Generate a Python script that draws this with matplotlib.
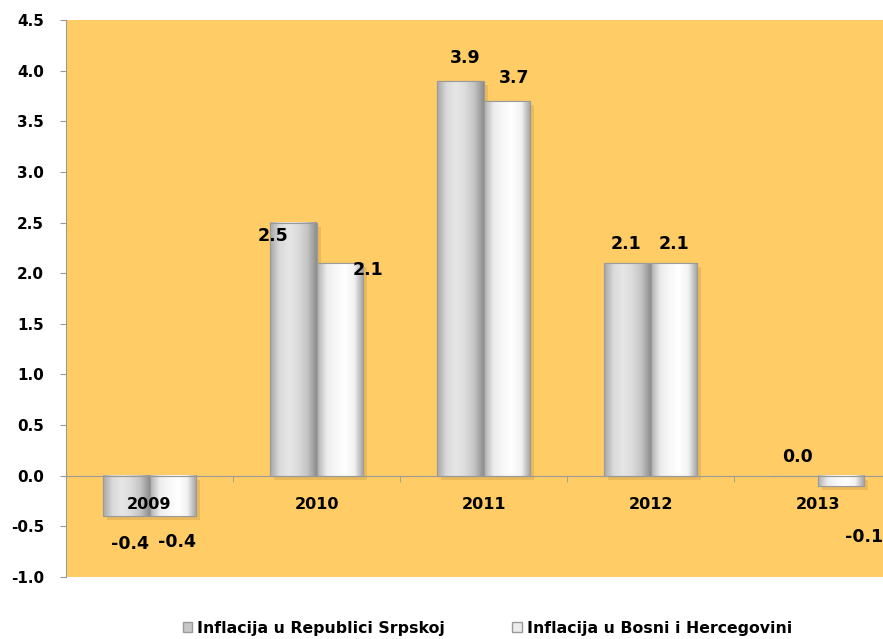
import matplotlib.pyplot as plt
import matplotlib.patheffects as pe
import numpy as np

years = ['2009', '2010', '2011', '2012', '2013']
rs_values = [-0.4, 2.5, 3.9, 2.1, 0.0]
bih_values = [-0.4, 2.1, 3.7, 2.1, -0.1]
series_names = ['Inflacija u Republici Srpskoj', 'Inflacija u Bosni i Hercegovini']

# label offsets in pixels (dx, dy) from bar end, mimicking the original placement
rs_offsets = [(4, -28), (-20, -13), (5, 23), (-1, 19), (3, 19)]
bih_offsets = [(4, -26), (28, -7), (7, 23), (0, 19), (23, -51)]

plt.rcParams['font.family'] = ['DejaVu Sans']
plt.rcParams['font.weight'] = 'bold'

W, H = 883, 639
fig = plt.figure(figsize=(W / 100, H / 100), dpi=100)
fig.patch.set_facecolor('white')
ax = fig.add_axes([66 / W, (H - 577) / H, 835 / W, (577 - 20) / H])
ax.set_facecolor('#FFCC66')

x = np.arange(len(years))
bw = 0.28
grey = '#9a9a9a'


def gradient(cols):
    row = np.array([[int(c[i:i + 2], 16) / 255 for i in (1, 3, 5)] for c in cols])
    xs = np.linspace(0, 1, len(cols))
    xf = np.linspace(0, 1, 60)
    img = np.stack([np.interp(xf, xs, row[:, k]) for k in range(3)], axis=-1)
    return img[np.newaxis, :, :]


rs_grad = gradient(['#a8a8a8', '#dadada', '#e6e6e6', '#dcdcdc', '#c4c4c4', '#8e8e8e'])
bih_grad = gradient(['#b0b0b0', '#ececec', '#f8f8f8', '#ffffff', '#f2f2f2', '#a0a0a0'])

shadow = [pe.SimplePatchShadow(offset=(3, -3), alpha=0.13, shadow_rgbFace='#5a4010'), pe.Normal()]
b1 = ax.bar(x - bw / 2, rs_values, bw, color='#d6d6d6', edgecolor=grey, linewidth=0.8,
            zorder=1, path_effects=shadow)
b2 = ax.bar(x + bw / 2, bih_values, bw, color='#f4f4f4', edgecolor=grey, linewidth=0.8,
            zorder=1, path_effects=shadow)

for bars, grad in ((b1, rs_grad), (b2, bih_grad)):
    for p in bars:
        if p.get_height() == 0:
            continue
        x0, y0 = p.get_x(), p.get_y()
        ax.imshow(grad, extent=[x0, x0 + p.get_width(), y0, y0 + p.get_height()],
                  aspect='auto', zorder=1.2, interpolation='bilinear')
        ax.add_patch(plt.Rectangle((x0, y0), p.get_width(), p.get_height(), fill=False,
                                   edgecolor=grey, linewidth=0.8, zorder=1.3))

for bars, vals, offs in ((b1, rs_values, rs_offsets), (b2, bih_values, bih_offsets)):
    for p, v, (dx, dy) in zip(bars, vals, offs):
        ax.annotate(f'{v:.1f}', xy=(p.get_x() + p.get_width() / 2, v),
                    xytext=(dx, dy), textcoords='offset pixels',
                    ha='center', va='center', fontsize=12.5, fontweight='bold', zorder=5)

ax.set_xlim(-0.5, len(years) - 0.5)
ax.set_ylim(-1.0, 4.5)
ax.set_yticks(np.arange(-1.0, 4.51, 0.5))
ax.set_yticklabels([f'{t:.1f}' for t in np.arange(-1.0, 4.51, 0.5)])
ax.tick_params(axis='y', direction='out', length=4.3, color=grey, pad=11.5, labelsize=11)

ax.set_xticks(x)
ax.set_xticklabels(years)
ax.set_xticks(np.arange(0.5, len(years) - 0.5, 1.0), minor=True)
ax.tick_params(axis='x', which='major', length=0, pad=15, labelsize=11.5)
ax.tick_params(axis='x', which='minor', direction='out', length=4.3, color=grey)

ax.spines['bottom'].set_position(('data', 0))
ax.spines['bottom'].set_color(grey)
ax.spines['left'].set_color(grey)
ax.spines['top'].set_visible(False)
ax.spines['right'].set_visible(False)

h1 = plt.Rectangle((0, 0), 1, 1, facecolor='#c8c8c8', edgecolor=grey)
h2 = plt.Rectangle((0, 0), 1, 1, facecolor='#ececec', edgecolor=grey)
fig.legend([h1, h2], series_names, loc='center', bbox_to_anchor=(0.552, 1 - 628 / H),
           ncol=2, frameon=False, handlelength=0.6, handleheight=0.6,
           handletextpad=0.3, columnspacing=4.3, prop={'weight': 'bold', 'size': 11.3})

fig.savefig('out.png', dpi=100)
